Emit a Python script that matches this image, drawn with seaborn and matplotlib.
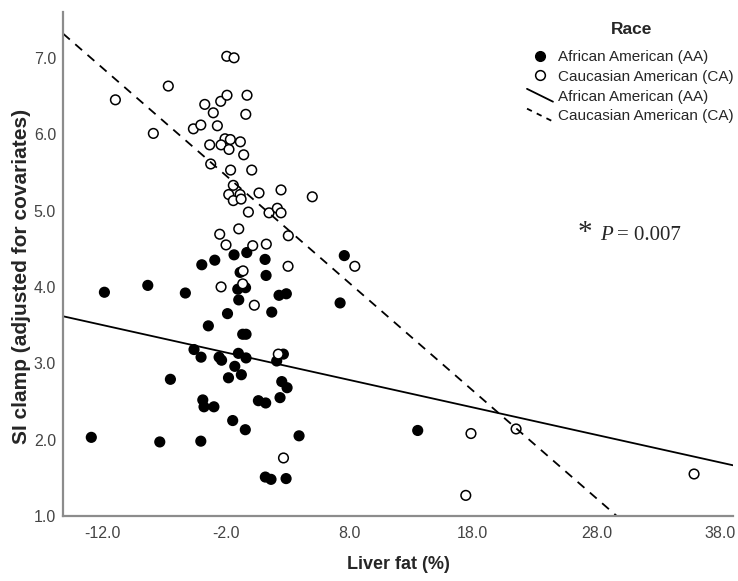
import numpy as np
import pandas as pd
import matplotlib
matplotlib.use("Agg")
import matplotlib.pyplot as plt
import seaborn as sns
from matplotlib.lines import Line2D
from matplotlib.legend_handler import HandlerBase


# liver fat (%) and SI clamp (adjusted for covariates)
aa_fat = [-3.93, -2.88, -1.32, -0.29, 1.19, 7.60, -0.83, 1.27, -11.81, -8.30,
          -5.26, -1.02, -0.39, -0.94, 2.32, 2.91, 7.26, -1.85, 1.73, -3.40,
          -0.62, -0.35, -4.56, -3.99, -2.53, -2.33, -0.97, -0.35, 2.67, 2.13,
          -1.26, -6.47, -1.77, -0.73, 2.54, 2.97, 2.40, -3.85, -3.75, -2.95,
          0.65, 1.24, -1.43, -0.41, 3.94, -12.87, -7.33, -4.01, 1.21, 1.67,
          2.89, 13.54]
aa_si = [4.29, 4.35, 4.42, 4.45, 4.36, 4.41, 4.19, 4.15, 3.93, 4.02,
         3.92, 3.97, 3.99, 3.83, 3.89, 3.91, 3.79, 3.65, 3.67, 3.49,
         3.38, 3.38, 3.18, 3.08, 3.08, 3.04, 3.13, 3.07, 3.12, 3.03,
         2.96, 2.79, 2.81, 2.85, 2.76, 2.68, 2.55, 2.52, 2.43, 2.43,
         2.51, 2.48, 2.25, 2.13, 2.05, 2.03, 1.97, 1.98, 1.51, 1.48,
         1.49, 2.12]

ca_fat = [-1.91, -1.32, -6.64, -10.92, -3.69, -2.40, -1.89, -0.27, -3.00, -0.37,
          -7.85, -4.61, -4.01, -2.67, -2.05, -1.62, -0.81, -3.29, -2.37, -1.73,
          -0.54, -3.21, -1.60, 0.11, -1.38, -1.75, -0.83, -1.38, -0.75, 0.70,
          2.48, 5.01, -0.16, 1.51, 2.18, 2.48, -0.94, -2.48, 3.07, -1.97,
          0.19, 1.29, 3.05, -0.59, 8.45, -2.37, -0.62, 0.32, 2.26, 2.68,
          17.85, 21.50, 17.43, 35.90]
ca_si = [7.02, 7.00, 6.63, 6.45, 6.39, 6.43, 6.51, 6.51, 6.28, 6.26,
         6.01, 6.07, 6.12, 6.11, 5.94, 5.93, 5.90, 5.86, 5.86, 5.80,
         5.73, 5.61, 5.53, 5.53, 5.33, 5.21, 5.21, 5.13, 5.15, 5.23,
         5.27, 5.18, 4.98, 4.97, 5.03, 4.97, 4.76, 4.69, 4.67, 4.55,
         4.54, 4.56, 4.27, 4.21, 4.27, 4.00, 4.04, 3.76, 3.12, 1.76,
         2.08, 2.14, 1.27, 1.55]

# fitted lines: intercept, slope
aa_fit = (3.07, -0.036)
ca_fit = (5.18, -0.141)

x_ticks = [-12, -2, 8, 18, 28, 38]
y_ticks = [1, 2, 3, 4, 5, 6, 7]

race_labels = {"AA": "African American (AA)", "CA": "Caucasian American (CA)"}

df = pd.DataFrame({
    "fat": aa_fat + ca_fat,
    "si": aa_si + ca_si,
    "race": ["AA"] * len(aa_fat) + ["CA"] * len(ca_fat),
})


class SlantLine(HandlerBase):
    # spss draws the legend line symbols slanted
    def create_artists(self, legend, orig_handle, xdescent, ydescent,
                       width, height, fontsize, trans):
        x0, y0 = -xdescent, -ydescent
        ln = Line2D([x0, x0 + width], [y0 + height * 1.1, y0 - height * 0.1])
        self.update_prop(ln, orig_handle, legend)
        ln.set_transform(trans)
        return [ln]


sns.set_style("white")
plt.rcParams["font.family"] = ["Liberation Sans", "DejaVu Sans"]

fig = plt.figure(figsize=(7.38, 5.81), dpi=100)
ax = fig.add_axes([63 / 738, 1 - 516 / 581, 670 / 738, 504 / 581])

sns.scatterplot(data=df, x="fat", y="si", hue="race",
                palette={"AA": "black", "CA": "white"},
                edgecolor="black", linewidth=1.1, s=48, legend=False, ax=ax)

xlim = (-15.16, 39.05)
xs = np.array(xlim)
ax.plot(xs, aa_fit[0] + aa_fit[1] * xs, color="black", lw=1.3)
ax.plot(xs, ca_fit[0] + ca_fit[1] * xs, color="black", lw=1.3, dashes=(5, 4))

ax.set_xlim(*xlim)
ax.set_ylim(1.0, 7.6)
ax.set_xticks(x_ticks)
ax.set_xticklabels([f"{v:.1f}" for v in x_ticks])
ax.set_yticks(y_ticks)
ax.set_yticklabels([f"{v:.1f}" for v in y_ticks])
ax.tick_params(length=0, labelsize=11.5, labelcolor="#444444")
ax.tick_params(axis="x", pad=7)
ax.tick_params(axis="y", pad=5)

for side in ["top", "right"]:
    ax.spines[side].set_visible(False)
for side in ["left", "bottom"]:
    ax.spines[side].set_color("#8c8c8c")
    ax.spines[side].set_linewidth(1.6)

ax.set_xlabel("Liver fat (%)", fontsize=13, fontweight="bold", labelpad=11)
ax.set_ylabel("SI clamp (adjusted for covariates)", fontsize=15,
              fontweight="bold")
ax.yaxis.set_label_coords(-0.048, 0.475)

# p-value note
ax.text(26.5, 4.62, "*", fontsize=21, family="Liberation Serif", va="baseline")
ax.text(28.29, 4.62, "P", fontsize=15, family="Liberation Serif",
        style="italic", va="baseline")
ax.text(29.67, 4.62, "= 0.007", fontsize=15, family="Liberation Serif",
        va="baseline")

# legend
handles = [
    Line2D([], [], ls="none", marker="o", ms=7, mfc="black", mec="black"),
    Line2D([], [], ls="none", marker="o", ms=7, mfc="white", mec="black", mew=1.1),
    Line2D([], [], color="black", lw=1.3),
    Line2D([], [], color="black", lw=1.3, dashes=(3, 3)),
]
labels = [race_labels["AA"], race_labels["CA"], race_labels["AA"], race_labels["CA"]]
fig.text(632 / 738, 1 - 29 / 581, "Race", ha="center", va="center",
         fontsize=12.5, fontweight="bold")
fig.legend(handles, labels, loc="upper left",
           bbox_to_anchor=(527 / 738, 1 - 50 / 581),
           frameon=False, fontsize=11, handlelength=1.7, handletextpad=0.35,
           labelspacing=0.38, borderpad=0, borderaxespad=0,
           handler_map={handles[2]: SlantLine(), handles[3]: SlantLine()})

fig.savefig("out.png", dpi=100)
